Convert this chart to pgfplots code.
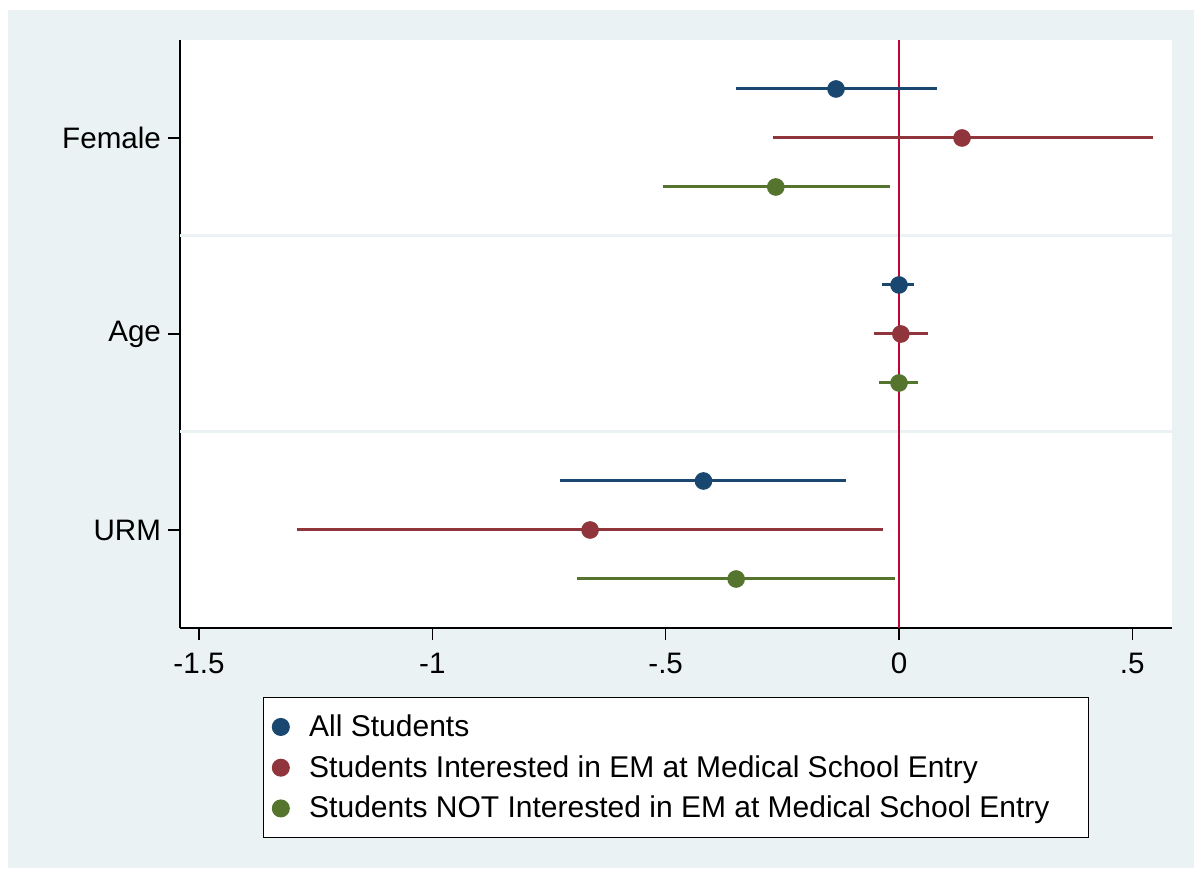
\documentclass[border=0pt]{standalone}
\usepackage{pgfplots}
\pgfplotsset{compat=1.18}
\usepackage{pgfplotstable}
\usepackage{fontspec}
\setmainfont{Liberation Sans}
\definecolor{bgc}{HTML}{EAF2F3}
\definecolor{snavy}{HTML}{1A476F}
\definecolor{smaroon}{HTML}{90353B}
\definecolor{sgreen}{HTML}{55752F}
\definecolor{sred}{HTML}{C10534}

\pgfplotstableread{
x y lo hi
-0.135 3.25 -0.349 0.081
0.000 2.25 -0.036 0.032
-0.419 1.25 -0.726 -0.114
}\allst
\pgfplotstableread{
x y lo hi
0.135 3 -0.271 0.544
0.004 2 -0.054 0.062
-0.662 1 -1.289 -0.035
}\intst
\pgfplotstableread{
x y lo hi
-0.264 2.75 -0.506 -0.019
0.000 1.75 -0.043 0.041
-0.349 0.75 -0.691 -0.009
}\notst

\begin{document}
\begin{tikzpicture}
\useasboundingbox (0,0) rectangle (597pt,435.5pt);
\fill[white] (0,0) rectangle (597pt,435.5pt);
\fill[bgc] (4pt,1.5pt) rectangle (597pt,430.5pt);
\begin{axis}[
  at={(90pt,121.5pt)}, anchor=south west,
  scale only axis, width=496pt, height=294pt,
  xmin=-1.5407, xmax=0.585, ymin=0.5, ymax=3.5,
  axis background/.style={fill=white},
  axis x line*=bottom, axis y line*=left,
  axis line style={line width=0.8pt, black},
  tick align=outside, major tick length=6pt,
  tick style={line width=0.8pt, black},
  xtick={-1.5,-1,-0.5,0,0.5},
  xticklabels={-1.5,-1,-.5,0,.5},
  ytick={1,2,3},
  yticklabels={URM,Age,Female},
  ticklabel style={font=\fontsize{14.8}{17}\selectfont},
  xticklabel style={yshift=-3pt},
  extra y ticks={1.5,2.5},
  extra y tick labels={},
  extra y tick style={grid=major, major tick length=0pt, tick style={draw=none}, major grid style={color=bgc, line width=1.5pt}},
  legend style={at={(axis description cs:0.5,0)}, yshift=-34.5pt, anchor=north,
    draw=black, line width=0.6pt, fill=white, font=\fontsize{15}{17}\selectfont,
    inner xsep=4.5pt, inner ysep=6.5pt, row sep=4pt,
    /tikz/every odd column/.append style={column sep=8pt}},
  legend cell align=left,
  clip=false,
]
\addplot[sred, line width=1.3pt, forget plot] coordinates {(0,0.5) (0,3.5)};
\addplot[only marks, mark=*, mark size=4.2pt, color=snavy,
  error bars/.cd, x dir=both, x explicit, error mark=none,
  error bar style={line width=1.5pt, snavy}]
  table[x=x, y=y, x error plus expr=\thisrow{hi}-\thisrow{x}, x error minus expr=\thisrow{x}-\thisrow{lo}] {\allst};
\addlegendentry{All Students}
\addplot[only marks, mark=*, mark size=4.2pt, color=smaroon,
  error bars/.cd, x dir=both, x explicit, error mark=none,
  error bar style={line width=1.5pt, smaroon}]
  table[x=x, y=y, x error plus expr=\thisrow{hi}-\thisrow{x}, x error minus expr=\thisrow{x}-\thisrow{lo}] {\intst};
\addlegendentry{Students Interested in EM at Medical School Entry}
\addplot[only marks, mark=*, mark size=4.2pt, color=sgreen,
  error bars/.cd, x dir=both, x explicit, error mark=none,
  error bar style={line width=1.5pt, sgreen}]
  table[x=x, y=y, x error plus expr=\thisrow{hi}-\thisrow{x}, x error minus expr=\thisrow{x}-\thisrow{lo}] {\notst};
\addlegendentry{Students NOT Interested in EM at Medical School Entry\hspace*{13pt}}
\end{axis}
\end{tikzpicture}
\end{document}
